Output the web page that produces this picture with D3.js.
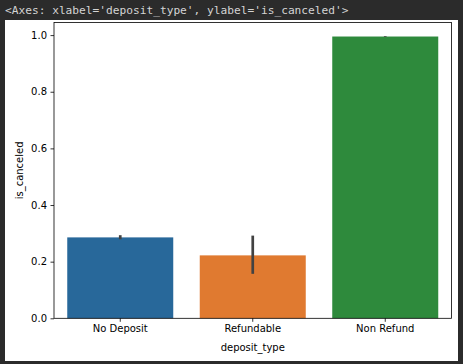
<!DOCTYPE html>
<html>
<head>
<meta charset="utf-8">
<script src="https://cdn.jsdelivr.net/npm/d3@7"></script>
<style>
  body { margin: 0; background: #2b2b2b; }
  svg { display: block; }
</style>
</head>
<body>
<div class="grafico"></div>
<script>
// datos
const categorias = ['No Deposit', 'Refundable', 'Non Refund'];
const valores = [0.2857, 0.2222, 0.9950];
const err_bajo = [0.2790, 0.1570, 0.9935];
const err_alto = [0.2935, 0.2920, 0.9962];
const colores = ['#28689a', '#e07a30', '#2e8a3c'];
const ticks_y = [0.0, 0.2, 0.4, 0.6, 0.8, 1.0];

const ancho = 463,
    alto = 364;

const margen = { top: 22.5, right: 11.5, bottom: 45.7, left: 54 };

let svg = d3.select('.grafico').append('svg')
    .attr('width', ancho)
    .attr('height', alto);

// texto de la celda (salida del notebook)
svg.append('text')
    .attr('x', 5)
    .attr('y', 14)
    .style('font-family', 'DejaVu Sans Mono')
    .style('font-size', '11.2px')
    .style('fill', '#d4d4d4')
    .text("<Axes: xlabel='deposit_type', ylabel='is_canceled'>");

// fondo blanco de la figura
svg.append('rect')
    .attr('x', 5)
    .attr('y', 20)
    .attr('width', 453)
    .attr('height', 341)
    .style('fill', '#ffffff');

const x = d3.scaleBand()
    .domain(categorias)
    .range([margen.left, ancho - margen.right])
    .paddingInner(0.2)
    .paddingOuter(0.1);

const y = d3.scaleLinear()
    .domain([0, 1.0445])
    .range([alto - margen.bottom, margen.top]);

const g = svg.append('g');

// barras
g.selectAll('rect.barra')
    .data(valores)
    .enter().append('rect')
    .attr('class', 'barra')
    .attr('x', (d, i) => x(categorias[i]))
    .attr('y', d => y(d))
    .attr('width', x.bandwidth())
    .attr('height', d => y(0) - y(d))
    .style('fill', (d, i) => colores[i]);

// barras de error
g.selectAll('line.err')
    .data(valores)
    .enter().append('line')
    .attr('class', 'err')
    .attr('x1', (d, i) => x(categorias[i]) + x.bandwidth() / 2)
    .attr('x2', (d, i) => x(categorias[i]) + x.bandwidth() / 2)
    .attr('y1', (d, i) => y(err_bajo[i]))
    .attr('y2', (d, i) => y(err_alto[i]))
    .style('stroke', '#424242')
    .style('stroke-width', 2.7);

// ejes
const ejeY = d3.axisLeft(y)
    .tickValues(ticks_y)
    .tickFormat(d3.format('.1f'))
    .tickSize(3.5)
    .tickPadding(3.5);

const ejeX = d3.axisBottom(x)
    .tickSize(3.5)
    .tickPadding(3.5);

let gy = svg.append('g')
    .attr('transform', 'translate(' + margen.left + ',0)')
    .call(ejeY);

let gx = svg.append('g')
    .attr('transform', 'translate(0,' + (alto - margen.bottom) + ')')
    .call(ejeX);

[gx, gy].forEach(ax => {
    ax.select('.domain').remove();
    ax.selectAll('line').style('stroke', '#000').style('stroke-width', 0.8);
    ax.selectAll('text')
        .style('font-family', 'DejaVu Sans')
        .style('font-size', '10px')
        .style('fill', '#000');
});

// marco
svg.append('rect')
    .attr('x', margen.left)
    .attr('y', margen.top)
    .attr('width', ancho - margen.left - margen.right)
    .attr('height', alto - margen.top - margen.bottom)
    .style('fill', 'none')
    .style('stroke', '#000')
    .style('stroke-width', 0.8);

// etiquetas
svg.append('text')
    .attr('x', margen.left + (ancho - margen.left - margen.right) / 2)
    .attr('y', 350.5)
    .attr('text-anchor', 'middle')
    .style('font-family', 'DejaVu Sans')
    .style('font-size', '10px')
    .text('deposit_type');

svg.append('text')
    .attr('transform', 'translate(23,' + (margen.top + (alto - margen.top - margen.bottom) / 2) + ') rotate(-90)')
    .attr('text-anchor', 'middle')
    .style('font-family', 'DejaVu Sans')
    .style('font-size', '10px')
    .text('is_canceled');
</script>
</body>
</html>
